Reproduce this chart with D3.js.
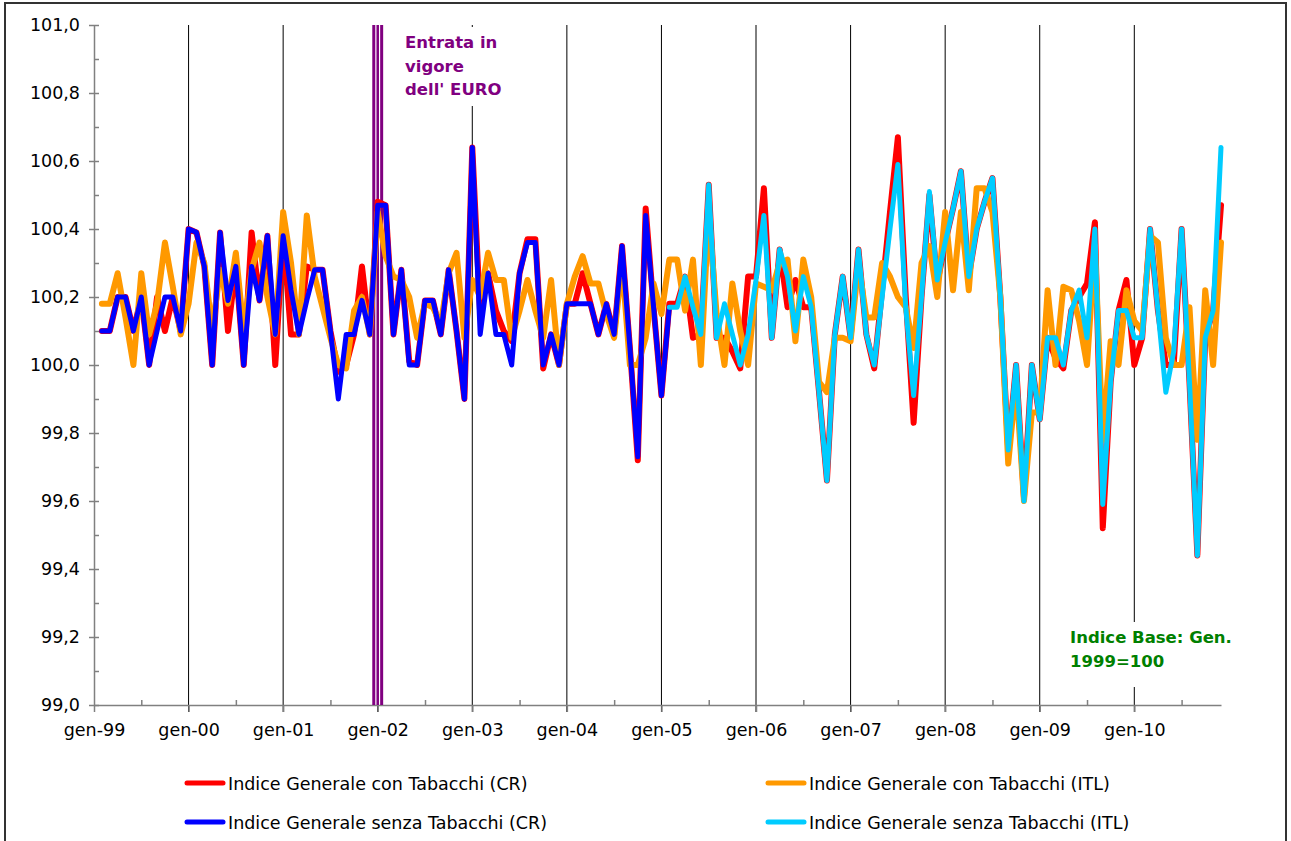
<!DOCTYPE html>
<html>
<head>
<meta charset="utf-8">
<script src="https://cdn.jsdelivr.net/npm/d3@7"></script>
<style>
  html, body { margin: 0; padding: 0; background: #fff; }
  svg { display: block; font-family: "DejaVu Sans", Verdana, sans-serif; }
</style>
</head>
<body>
<svg id="chart" width="1291" height="841"></svg>
<script>
// Tick labels of the category axis (one per January) and of the value axis
const yearLabels = ["gen-99", "gen-00", "gen-01", "gen-02", "gen-03", "gen-04",
  "gen-05", "gen-06", "gen-07", "gen-08", "gen-09", "gen-10"];
const valueTicks = [99.0, 99.2, 99.4, 99.6, 99.8, 100.0, 100.2, 100.4, 100.6, 100.8, 101.0];

// Month index 0 = gen-99, 143 = dic-10
const monthCount = 144;

// Indice Generale con Tabacchi (CR), from feb-99
const conTabacchiCRStart = 1;
const conTabacchiCR = [
          100.10, 100.10, 100.20, 100.20, 100.10, 100.20, 100.00, 100.20, 100.10, 100.20, 100.10,
  100.40, 100.39, 100.29, 100.00, 100.39, 100.10, 100.29, 100.00, 100.39, 100.19, 100.38, 100.00,
  100.38, 100.09, 100.09, 100.29, 100.28, 100.28, 100.10,  99.98, 100.00, 100.09, 100.29, 100.09,
  100.48, 100.47, 100.09, 100.28, 100.01, 100.00, 100.19, 100.19, 100.09, 100.28, 100.10,  99.90,
  100.64, 100.15, 100.27, 100.16, 100.10, 100.07, 100.27, 100.37, 100.37,  99.99, 100.09, 100.00,
  100.18, 100.18, 100.27, 100.18, 100.09, 100.18, 100.09, 100.35, 100.05,  99.72, 100.46, 100.17,
   99.91, 100.18, 100.18, 100.26, 100.08, 100.09, 100.53, 100.08, 100.08, 100.04,  99.99, 100.26,
  100.26, 100.52, 100.08, 100.34, 100.17, 100.25, 100.17, 100.17,  99.92,  99.66, 100.09, 100.26,
  100.08, 100.34, 100.09,  99.99, 100.22, 100.45, 100.67, 100.20,  99.83, 100.20, 100.50, 100.24,
  100.36, 100.46, 100.57, 100.26, 100.40, 100.48, 100.55, 100.20,  99.75, 100.00,  99.61, 100.00,
   99.84, 100.08, 100.02,  99.99, 100.16, 100.20, 100.24, 100.42,  99.52,  99.95, 100.16, 100.25,
  100.00, 100.08, 100.40, 100.16, 100.00, 100.00, 100.40,  99.95,  99.44, 100.08, 100.16, 100.47
];

// Indice Generale con Tabacchi (ITL), from feb-99
const conTabacchiITLStart = 1;
const conTabacchiITL = [
          100.18, 100.18, 100.27, 100.14, 100.00, 100.27, 100.09, 100.18, 100.36, 100.23, 100.09,
  100.18, 100.36, 100.30, 100.10, 100.28, 100.18, 100.33, 100.10, 100.28, 100.36, 100.20, 100.09,
  100.45, 100.30, 100.09, 100.44, 100.26, 100.17, 100.08, 100.00,  99.99, 100.16, 100.20, 100.09,
  100.45, 100.32, 100.26, 100.25, 100.20, 100.08, 100.18, 100.17, 100.12, 100.27, 100.33, 100.08,
  100.25, 100.20, 100.33, 100.25, 100.25, 100.08, 100.16, 100.25, 100.16, 100.08, 100.25, 100.00,
  100.18, 100.26, 100.32, 100.24, 100.24, 100.15, 100.08, 100.30, 100.00, 100.00, 100.08, 100.24,
  100.15, 100.31, 100.31, 100.16, 100.31, 100.00, 100.45, 100.15, 100.00, 100.24, 100.10, 100.00,
  100.24, 100.23, 100.22, 100.30, 100.31, 100.07, 100.31, 100.20,  99.95,  99.92, 100.08, 100.08,
  100.07, 100.30, 100.14, 100.14, 100.30, 100.26, 100.20, 100.17, 100.05, 100.30, 100.35, 100.20,
  100.45, 100.22, 100.45, 100.22, 100.52, 100.52, 100.45, 100.20,  99.71,  99.95,  99.60,  99.86,
   99.86, 100.22, 100.00, 100.23, 100.22, 100.13, 100.00, 100.35,  99.78, 100.07, 100.00, 100.22,
  100.13, 100.10, 100.38, 100.36, 100.08, 100.00, 100.00, 100.17,  99.78, 100.22, 100.00, 100.36
];

// Indice Generale senza Tabacchi (CR), feb-99 .. feb-05
const senzaTabacchiCRStart = 1;
const senzaTabacchiCR = [
          100.10, 100.10, 100.20, 100.20, 100.10, 100.20, 100.00, 100.10, 100.20, 100.20, 100.10,
  100.40, 100.39, 100.29, 100.00, 100.39, 100.19, 100.29, 100.00, 100.29, 100.19, 100.38, 100.09,
  100.38, 100.22, 100.09, 100.19, 100.28, 100.28, 100.10,  99.90, 100.09, 100.09, 100.19, 100.09,
  100.47, 100.47, 100.09, 100.28, 100.00, 100.00, 100.19, 100.19, 100.09, 100.28, 100.10,  99.90,
  100.64, 100.09, 100.27, 100.09, 100.09, 100.00, 100.27, 100.36, 100.36, 100.00, 100.09, 100.00,
  100.18, 100.18, 100.18, 100.18, 100.09, 100.18, 100.09, 100.35, 100.05,  99.73, 100.44, 100.17,
   99.91, 100.17
];

// Indice Generale senza Tabacchi (ITL), feb-05 .. dic-10
const senzaTabacchiITLStart = 73;
const senzaTabacchiITL = [
          100.17, 100.17, 100.26, 100.17, 100.09, 100.53, 100.08, 100.18, 100.09, 100.00, 100.09,
  100.25, 100.44, 100.08, 100.34, 100.26, 100.10, 100.26, 100.17,  99.92,  99.66, 100.09, 100.26,
  100.08, 100.34, 100.09, 100.00, 100.20, 100.40, 100.59, 100.17,  99.91, 100.20, 100.51, 100.25,
  100.36, 100.46, 100.57, 100.26, 100.40, 100.48, 100.55, 100.20,  99.75, 100.00,  99.60, 100.00,
   99.84, 100.08, 100.08, 100.00, 100.16, 100.22, 100.08, 100.40,  99.59,  99.95, 100.16, 100.16,
  100.08, 100.08, 100.40, 100.16,  99.92, 100.04, 100.40,  99.95,  99.44, 100.08, 100.16, 100.64
];

// Euro changeover marker (month indices around gen-02)
const euroMonths = [35.5, 36, 36.5];

/**
 * Line chart of the monthly consumer price indices
 */
class IndexChart
{
  constructor(selector)
  {
    this._svg = d3.select(selector);

    // plot area
    this._left = 94;
    this._right = 1221;
    this._top = 25;
    this._bottom = 705;

    this._series = [
      { name: "Indice Generale con Tabacchi (CR)",    values: conTabacchiCR,    start: conTabacchiCRStart,    color: "#ff0000", width: 6 },
      { name: "Indice Generale con Tabacchi (ITL)",   values: conTabacchiITL,   start: conTabacchiITLStart,   color: "#ff9900", width: 6 },
      { name: "Indice Generale senza Tabacchi (CR)",  values: senzaTabacchiCR,  start: senzaTabacchiCRStart,  color: "#0000ff", width: 5 },
      { name: "Indice Generale senza Tabacchi (ITL)", values: senzaTabacchiITL, start: senzaTabacchiITLStart, color: "#00ccff", width: 5 }
    ];

    this._x = d3.scaleLinear().domain([0, monthCount - 1]).range([this._left, this._right]);
    this._y = d3.scaleLinear().domain([99, 101]).range([this._bottom, this._top]);
  }

  /**
   * Frame, gridlines and axes
   * @private
   */
  _drawFrame()
  {
    // outer border of the chart object
    this._svg.append("rect")
      .attr("x", 5).attr("y", 3)
      .attr("width", 1281).attr("height", 900)
      .attr("fill", "none")
      .attr("stroke", "#333")
      .attr("stroke-width", 2);

    const januaries = yearLabels.map((d, i) => i * 12);

    // vertical gridlines at every January
    this._svg.append("g")
      .selectAll("line")
      .data(januaries.slice(1))
      .join("line")
      .attr("x1", d => this._x(d)).attr("x2", d => this._x(d))
      .attr("y1", this._top).attr("y2", this._bottom + 7)
      .attr("stroke", "#000")
      .attr("stroke-width", 1);

    // value axis: major ticks outside with labels, minor ticks inside
    const yAxis = this._svg.append("g")
      .attr("transform", `translate(${this._left},0)`)
      .call(d3.axisLeft(this._y)
        .tickValues(valueTicks)
        .tickSize(5)
        .tickSizeOuter(0)
        .tickPadding(9)
        .tickFormat(d => d.toFixed(1).replace(".", ",")));

    this._svg.append("g")
      .attr("transform", `translate(${this._left},0)`)
      .call(d3.axisRight(this._y)
        .tickValues(d3.range(990, 1011).map(d => d / 10))
        .tickSize(5)
        .tickSizeOuter(0)
        .tickFormat(""))
      .call(g => g.select(".domain").remove());

    // category axis: gen labels, minor ticks at mid-year
    const xAxis = this._svg.append("g")
      .attr("transform", `translate(0,${this._bottom})`)
      .call(d3.axisBottom(this._x)
        .tickValues(januaries)
        .tickSize(7)
        .tickSizeOuter(0)
        .tickPadding(12)
        .tickFormat((d, i) => yearLabels[i]));

    this._svg.append("g")
      .attr("transform", `translate(0,${this._bottom})`)
      .call(d3.axisTop(this._x)
        .tickValues(januaries.map(d => d + 6))
        .tickSize(5)
        .tickSizeOuter(0)
        .tickFormat(""))
      .call(g => g.select(".domain").remove());

    this._svg.selectAll(".domain, .tick line")
      .attr("stroke", "#808080")
      .attr("stroke-width", 1.5);

    [yAxis, xAxis].forEach(g => g.selectAll("text")
      .attr("font-family", "DejaVu Sans, Verdana, sans-serif")
      .attr("font-size", 17.5)
      .attr("fill", "#000"));
  }

  /**
   * Euro marker and text boxes
   * @private
   */
  _drawNotes()
  {
    this._svg.append("g")
      .selectAll("line")
      .data(euroMonths)
      .join("line")
      .attr("x1", d => this._x(d)).attr("x2", d => this._x(d))
      .attr("y1", this._top).attr("y2", this._bottom)
      .attr("stroke", "#800080")
      .attr("stroke-width", (d, i) => i === 1 ? 2.5 : 3);

    const note = (x, y, lines, color, box) =>
    {
      this._svg.append("rect")
        .attr("x", box[0]).attr("y", box[1])
        .attr("width", box[2]).attr("height", box[3])
        .attr("fill", "#fff");

      this._svg.append("text")
        .attr("font-size", 16.5)
        .attr("font-weight", "bold")
        .attr("fill", color)
        .selectAll("tspan")
        .data(lines)
        .join("tspan")
        .attr("x", x)
        .attr("y", (d, i) => y + i * 23.5)
        .text(d => d);
    };

    note(405, 48, ["Entrata in", "vigore", "dell' EURO"], "#800080", [398, 27, 104, 79]);
    note(1070, 643, ["Indice Base: Gen.", "1999=100"], "#008000", [1062, 622, 172, 65]);
  }

  /**
   * Series lines
   * @private
   */
  _drawSeries()
  {
    const line = d3.line()
      .x(d => this._x(d.month))
      .y(d => this._y(d.value));

    this._svg.append("g")
      .selectAll("path")
      .data(this._series)
      .join("path")
      .attr("d", s => line(s.values.map((v, i) => ({ month: s.start + i, value: v }))))
      .attr("fill", "none")
      .attr("stroke", s => s.color)
      .attr("stroke-width", s => s.width)
      .attr("stroke-linejoin", "round")
      .attr("stroke-linecap", "round");
  }

  /**
   * Legend, two columns
   * @private
   */
  _drawLegend()
  {
    const colX = [187, 768];
    const rowY = [783, 822];

    const item = this._svg.append("g")
      .selectAll("g")
      .data(this._series)
      .join("g")
      .attr("transform", (s, i) => `translate(${colX[i % 2]},${rowY[Math.floor(i / 2)]})`);

    item.append("line")
      .attr("x1", 0).attr("x2", 36)
      .attr("stroke", s => s.color)
      .attr("stroke-width", 5)
      .attr("stroke-linecap", "round");

    item.append("text")
      .attr("x", 41)
      .attr("y", 7)
      .attr("font-size", 17.5)
      .attr("fill", "#000")
      .text(s => s.name);
  }

  render()
  {
    this._drawFrame();
    this._drawNotes();
    this._drawSeries();
    this._drawLegend();
  }
}

new IndexChart("#chart").render();
</script>
</body>
</html>
